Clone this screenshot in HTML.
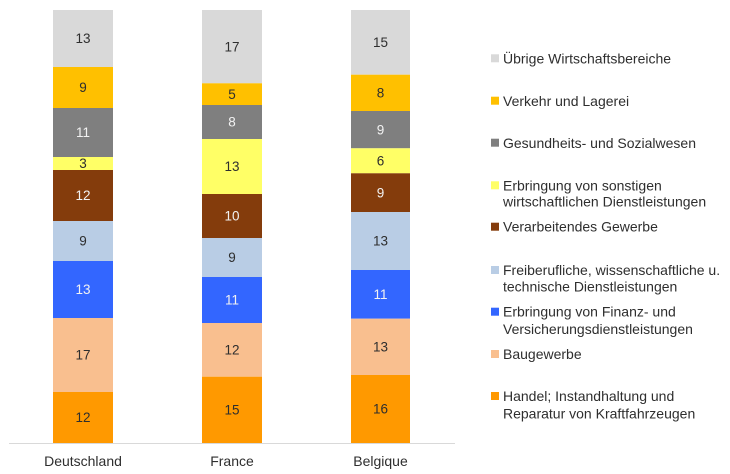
<!DOCTYPE html>
<html>
<head>
<meta charset="utf-8">
<style>
  html, body { margin: 0; padding: 0; background: #fff; }
  svg { display: block; }
  text { font-family: "Liberation Sans", "DejaVu Sans", sans-serif; }
  .lbl { font-size: 13.5px; text-anchor: middle; }
  .dk { fill: #2e2e2e; }
  .lt { fill: #f2f2f2; }
  .leg { font-size: 14px; fill: #2e2e2e; }
  .ax { font-size: 14px; fill: #2e2e2e; text-anchor: middle; }
</style>
</head>
<body>
<svg width="730" height="474" viewBox="0 0 730 474" xmlns="http://www.w3.org/2000/svg">
  <rect width="730" height="474" fill="#ffffff"/>

  <!-- Deutschland -->
  <g>
    <rect x="53" y="10" width="60" height="57" fill="#d9d9d9"/>
    <rect x="53" y="67" width="60" height="41" fill="#ffc000"/>
    <rect x="53" y="108" width="60" height="49" fill="#7f7f7f"/>
    <rect x="53" y="157" width="60" height="13" fill="#ffff66"/>
    <rect x="53" y="170" width="60" height="51" fill="#843c0c"/>
    <rect x="53" y="221" width="60" height="40" fill="#b9cde5"/>
    <rect x="53" y="261" width="60" height="57" fill="#3366ff"/>
    <rect x="53" y="318" width="60" height="74" fill="#f9bf8f"/>
    <rect x="53" y="392" width="60" height="51" fill="#ff9900"/>
    <text class="lbl dk" x="83" y="43.2">13</text>
    <text class="lbl dk" x="83" y="92.2">9</text>
    <text class="lbl lt" x="83" y="137.2">11</text>
    <text class="lbl dk" x="83" y="168.2">3</text>
    <text class="lbl lt" x="83" y="200.2">12</text>
    <text class="lbl dk" x="83" y="245.7">9</text>
    <text class="lbl lt" x="83" y="294.2">13</text>
    <text class="lbl dk" x="83" y="359.7">17</text>
    <text class="lbl dk" x="83" y="422.2">12</text>
  </g>

  <!-- France -->
  <g>
    <rect x="202" y="10" width="60" height="73.3" fill="#d9d9d9"/>
    <rect x="202" y="83.3" width="60" height="21.7" fill="#ffc000"/>
    <rect x="202" y="105" width="60" height="34" fill="#7f7f7f"/>
    <rect x="202" y="139" width="60" height="55" fill="#ffff66"/>
    <rect x="202" y="194" width="60" height="44" fill="#843c0c"/>
    <rect x="202" y="238" width="60" height="39" fill="#b9cde5"/>
    <rect x="202" y="277" width="60" height="46" fill="#3366ff"/>
    <rect x="202" y="323" width="60" height="53.7" fill="#f9bf8f"/>
    <rect x="202" y="376.7" width="60" height="66.3" fill="#ff9900"/>
    <text class="lbl dk" x="232" y="51.3">17</text>
    <text class="lbl dk" x="232" y="98.8">5</text>
    <text class="lbl lt" x="232" y="126.7">8</text>
    <text class="lbl dk" x="232" y="171.2">13</text>
    <text class="lbl lt" x="232" y="220.7">10</text>
    <text class="lbl dk" x="232" y="262.2">9</text>
    <text class="lbl lt" x="232" y="304.7">11</text>
    <text class="lbl dk" x="232" y="354.5">12</text>
    <text class="lbl dk" x="232" y="414.5">15</text>
  </g>

  <!-- Belgique -->
  <g>
    <rect x="351" y="10" width="59" height="64.7" fill="#d9d9d9"/>
    <rect x="351" y="74.7" width="59" height="36.3" fill="#ffc000"/>
    <rect x="351" y="111" width="59" height="37.3" fill="#7f7f7f"/>
    <rect x="351" y="148.3" width="59" height="25" fill="#ffff66"/>
    <rect x="351" y="173.3" width="59" height="38.7" fill="#843c0c"/>
    <rect x="351" y="212" width="59" height="58" fill="#b9cde5"/>
    <rect x="351" y="270" width="59" height="48.7" fill="#3366ff"/>
    <rect x="351" y="318.7" width="59" height="56.3" fill="#f9bf8f"/>
    <rect x="351" y="375" width="59" height="68" fill="#ff9900"/>
    <text class="lbl dk" x="380.5" y="47.1">15</text>
    <text class="lbl dk" x="380.5" y="97.5">8</text>
    <text class="lbl lt" x="380.5" y="134.4">9</text>
    <text class="lbl dk" x="380.5" y="165.5">6</text>
    <text class="lbl lt" x="380.5" y="197.4">9</text>
    <text class="lbl dk" x="380.5" y="245.7">13</text>
    <text class="lbl lt" x="380.5" y="299">11</text>
    <text class="lbl dk" x="380.5" y="351.5">13</text>
    <text class="lbl dk" x="380.5" y="413.7">16</text>
  </g>

  <!-- axis -->
  <line x1="9" y1="443.5" x2="455" y2="443.5" stroke="#d9d9d9" stroke-width="1"/>
  <text class="ax" x="83" y="466">Deutschland</text>
  <text class="ax" x="232" y="466">France</text>
  <text class="ax" x="380.5" y="466">Belgique</text>

  <!-- legend -->
  <g>
    <rect x="491" y="54.3" width="8" height="8" fill="#d9d9d9"/>
    <text class="leg" x="503" y="63.5">Übrige Wirtschaftsbereiche</text>

    <rect x="491" y="96.7" width="8" height="8" fill="#ffc000"/>
    <text class="leg" x="503" y="106">Verkehr und Lagerei</text>

    <rect x="491" y="138.7" width="8" height="8" fill="#7f7f7f"/>
    <text class="leg" x="503" y="148">Gesundheits- und Sozialwesen</text>

    <rect x="491" y="181.3" width="8" height="8" fill="#ffff66"/>
    <text class="leg" x="503" y="190.3">Erbringung von sonstigen</text>
    <text class="leg" x="503" y="206.7">wirtschaftlichen Dienstleistungen</text>

    <rect x="491" y="222.7" width="8" height="8" fill="#843c0c"/>
    <text class="leg" x="503" y="231.7">Verarbeitendes Gewerbe</text>

    <rect x="491" y="266" width="8" height="8" fill="#b9cde5"/>
    <text class="leg" x="503" y="275">Freiberufliche, wissenschaftliche u.</text>
    <text class="leg" x="503" y="291.7">technische Dienstleistungen</text>

    <rect x="491" y="307.7" width="8" height="8" fill="#3366ff"/>
    <text class="leg" x="503" y="316.7">Erbringung von Finanz- und</text>
    <text class="leg" x="503" y="334">Versicherungsdienstleistungen</text>

    <rect x="491" y="350" width="8" height="8" fill="#f9bf8f"/>
    <text class="leg" x="503" y="359">Baugewerbe</text>

    <rect x="491" y="392" width="8" height="8" fill="#ff9900"/>
    <text class="leg" x="503" y="401">Handel; Instandhaltung und</text>
    <text class="leg" x="503" y="418.3">Reparatur von Kraftfahrzeugen</text>
  </g>
</svg>
</body>
</html>
